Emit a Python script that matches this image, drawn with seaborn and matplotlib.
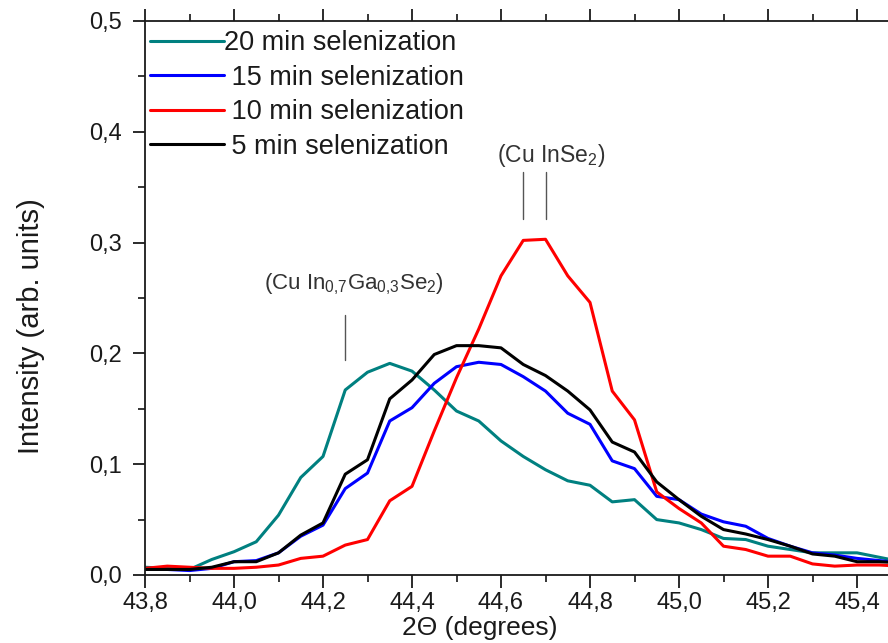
import matplotlib
matplotlib.use("Agg")
import matplotlib.pyplot as plt
from matplotlib.ticker import MultipleLocator, FixedLocator, FixedFormatter
import pandas as pd
import seaborn as sns

# ---- data -------------------------------------------------------------
two_theta = [43.80, 43.85, 43.90, 43.95, 44.00, 44.05, 44.10, 44.15, 44.20,
             44.25, 44.30, 44.35, 44.40, 44.45, 44.50, 44.55, 44.60, 44.65,
             44.70, 44.75, 44.80, 44.85, 44.90, 44.95, 45.00, 45.05, 45.10,
             45.15, 45.20, 45.25, 45.30, 45.35, 45.40, 45.45, 45.50]

sel_20min = [0.007, 0.006, 0.005, 0.014, 0.021, 0.030, 0.054, 0.088, 0.107,
             0.167, 0.183, 0.191, 0.184, 0.167, 0.148, 0.139, 0.121, 0.107,
             0.095, 0.085, 0.081, 0.066, 0.068, 0.050, 0.047, 0.041, 0.033,
             0.032, 0.026, 0.023, 0.020, 0.020, 0.020, 0.016, 0.012]

sel_15min = [0.005, 0.005, 0.004, 0.006, 0.012, 0.013, 0.020, 0.035, 0.045,
             0.078, 0.092, 0.139, 0.151, 0.173, 0.188, 0.192, 0.190, 0.179,
             0.166, 0.146, 0.136, 0.103, 0.096, 0.071, 0.068, 0.055, 0.048,
             0.044, 0.033, 0.026, 0.020, 0.018, 0.015, 0.013, 0.011]

sel_10min = [0.006, 0.008, 0.007, 0.006, 0.006, 0.007, 0.009, 0.015, 0.017,
             0.027, 0.032, 0.067, 0.080, 0.130, 0.178, 0.222, 0.270, 0.302,
             0.303, 0.270, 0.246, 0.166, 0.140, 0.075, 0.060, 0.047, 0.026,
             0.023, 0.017, 0.017, 0.010, 0.008, 0.009, 0.009, 0.008]

sel_5min = [0.005, 0.005, 0.005, 0.007, 0.012, 0.012, 0.020, 0.036, 0.047,
            0.091, 0.104, 0.159, 0.176, 0.199, 0.207, 0.207, 0.205, 0.190,
            0.180, 0.166, 0.149, 0.120, 0.111, 0.084, 0.068, 0.053, 0.041,
            0.037, 0.032, 0.026, 0.019, 0.017, 0.012, 0.012, 0.011]

series_labels = ["20 min selenization", " 15 min selenization",
                 " 10 min selenization", " 5 min selenization"]
series_colors = ["#008080", "#0000ff", "#ff0000", "#000000"]

x_ticks = [43.8, 44.0, 44.2, 44.4, 44.6, 44.8, 45.0, 45.2, 45.4]
x_tick_labels = ["43,8", "44,0", "44,2", "44,4", "44,6", "44,8", "45,0", "45,2", "45,4"]
y_ticks = [0.0, 0.1, 0.2, 0.3, 0.4, 0.5]
y_tick_labels = ["0,0", "0,1", "0,2", "0,3", "0,4", "0,5"]

# reflection positions marked above the curves
cigs_peak_x = [44.25]
cis_peak_x = [44.65, 44.70]

# ---- long-form table --------------------------------------------------
frames = []
for lab, vals in zip(series_labels, [sel_20min, sel_15min, sel_10min, sel_5min]):
    frames.append(pd.DataFrame({"two_theta": two_theta, "intensity": vals, "sample": lab}))
df = pd.concat(frames, ignore_index=True)

# ---- style ------------------------------------------------------------
sns.set_style("ticks")
plt.rcParams["font.family"] = ["Liberation Sans", "DejaVu Sans"]
plt.rcParams["mathtext.fontset"] = "custom"
plt.rcParams["mathtext.rm"] = "Liberation Sans"
plt.rcParams["mathtext.it"] = "Liberation Sans"

fig = plt.figure(figsize=(8.88, 6.43), dpi=100)
ax = fig.add_axes([145 / 888, 68 / 643, 756.5 / 888, 554 / 643])

sns.lineplot(data=df, x="two_theta", y="intensity", hue="sample",
             hue_order=series_labels, palette=series_colors, sort=False,
             linewidth=2.2, ax=ax, legend=True)

ax.set_xlim(43.8, 45.5)
ax.set_ylim(0.0, 0.5)

ax.xaxis.set_major_locator(FixedLocator(x_ticks))
ax.xaxis.set_major_formatter(FixedFormatter(x_tick_labels))
ax.xaxis.set_minor_locator(MultipleLocator(0.1))
ax.yaxis.set_major_locator(FixedLocator(y_ticks))
ax.yaxis.set_major_formatter(FixedFormatter(y_tick_labels))
ax.yaxis.set_minor_locator(MultipleLocator(0.05))

for side in ["top", "right", "left", "bottom"]:
    ax.spines[side].set_linewidth(1.3)
    ax.spines[side].set_color("#1a1a1a")

ax.tick_params(axis="both", which="major", direction="out", length=9, width=1.3,
               labelsize=17, colors="#1a1a1a", top=True, right=True)
ax.tick_params(axis="both", which="minor", direction="out", length=5, width=1.3,
               top=True, right=True)
ax.tick_params(axis="x", which="major", pad=3)
ax.tick_params(axis="y", which="major", pad=8)

ax.set_xlabel("2\u0398 (degrees)", fontsize=19, color="#1a1a1a")
ax.xaxis.set_label_coords((480 - 145) / 756.5, -53 / 554)
ax.xaxis.label.set_verticalalignment("center")
ax.set_ylabel("Intensity (arb. units)", fontsize=21, color="#1a1a1a")
ax.yaxis.set_label_coords((31 - 145) / 756.5, (575 - 326) / 554)
ax.yaxis.label.set_verticalalignment("center")

# peak assignments
ann_color = "#333333"
for xp in cigs_peak_x:
    ax.plot([xp, xp], [0.194, 0.235], color="#555555", linewidth=1.0)
ax.text(44.27, 0.262, r"(Cu In$_{0{,}7}$Ga$_{0{,}3}$Se$_2$)", fontsize=16,
        color=ann_color, ha="center", va="center")
for xp in cis_peak_x:
    ax.plot([xp, xp], [0.321, 0.364], color="#555555", linewidth=1.0)
ax.text(44.712, 0.379, r"(Cu InSe$_2$)", fontsize=16.5,
        color=ann_color, ha="center", va="center")

leg = ax.legend(loc="upper left", bbox_to_anchor=(0.006, 0.983), frameon=False,
                fontsize=19.5, handlelength=2.75, handletextpad=0.0,
                labelspacing=0.31, borderpad=0.0, borderaxespad=0.0)
for line in leg.get_lines():
    line.set_linewidth(2.2)
for t in leg.get_texts():
    t.set_color("#1a1a1a")

fig.savefig("out.png", dpi=100)
